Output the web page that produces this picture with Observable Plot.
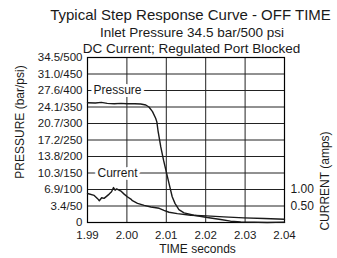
<!DOCTYPE html>
<html><head><meta charset="utf-8">
<script src="https://cdn.jsdelivr.net/npm/d3@7"></script>
<script src="https://cdn.jsdelivr.net/npm/@observablehq/plot@0.6"></script>
<style>body{margin:0;background:#fff}</style>
</head><body><div id="chart"></div>
<script>
const titleText = "Typical Step Response Curve - OFF TIME";
const subtitleLine1 = "Inlet Pressure 34.5 bar/500 psi";
const subtitleLine2 = "DC Current; Regulated Port Blocked";
const xLabel = "TIME seconds";
const yLabel = "PRESSURE (bar/psi)";
const y2Label = "CURRENT (amps)";
const timeTicks = [1.99, 2.00, 2.01, 2.02, 2.03, 2.04];
const psiTicks = [0, 50, 100, 150, 200, 250, 300, 350, 400, 450, 500];
const psiTickLabels = ["0", "3.4/50", "6.9/100", "10.3/150", "13.8/200", "17.2/250", "20.7/300", "24.1/350", "27.6/400", "31.0/450", "34.5/500"];
const currentTicks = [0.5, 1.0];
const currentTickLabels = ["0.50", "1.00"];
const PSI_PER_AMP = 100;

const pressureTime = [1.9900, 1.9920, 1.9935, 1.9950, 1.9968, 1.9985, 2.0000, 2.0020, 2.0035, 2.0048, 2.0056, 2.0065, 2.0073, 2.0076, 2.0079, 2.0086, 2.0093, 2.0101, 2.0107, 2.0115, 2.0122, 2.0132, 2.0145, 2.0170, 2.0204, 2.0238, 2.0263, 2.0289, 2.0356, 2.0400];
const pressurePsi  = [363, 362, 364, 361, 360, 361, 360, 360, 359, 356, 350, 336, 316, 305, 278, 229, 189, 148, 118, 78, 58, 39, 29, 22, 15, 9, 4, 2, 0, 1];

const currentTime = [1.9900, 1.9917, 1.9925, 1.9930, 1.9936, 1.9942, 1.9949, 1.9955, 1.9961, 1.9966, 1.9970, 1.9974, 1.9980, 1.9986, 1.9993, 2.0001, 2.0010, 2.0014, 2.0027, 2.0044, 2.0061, 2.0082, 2.0094, 2.0107, 2.0128, 2.0162, 2.0202, 2.0246, 2.0297, 2.0348, 2.0400];
const currentAmps = [0.88, 0.82, 0.73, 0.66, 0.75, 0.73, 0.80, 0.86, 0.93, 1.06, 0.98, 1.02, 0.98, 0.94, 0.86, 0.78, 0.71, 0.66, 0.58, 0.52, 0.47, 0.43, 0.37, 0.31, 0.27, 0.22, 0.20, 0.17, 0.14, 0.12, 0.10];

const seriesLabels = ["Pressure", "Current"];
const seriesLabelPsi = [400, 150];

const font = '"Liberation Sans", Arial, Helvetica, sans-serif';
const pressure = pressureTime.map((t, i) => ({t, v: pressurePsi[i]}));
const current = currentTime.map((t, i) => ({t, v: currentAmps[i] * PSI_PER_AMP}));
const ink = "#1a1a1a";

const chart = Plot.plot({
  width: 337, height: 258,
  marginTop: 57, marginBottom: 36, marginLeft: 87, marginRight: 53,
  style: {fontFamily: font, fontSize: "12px", color: ink, background: "white"},
  x: {domain: [1.99, 2.04]},
  y: {domain: [0, 500]},
  marks: [
    Plot.gridX(timeTicks, {stroke: "#222", strokeOpacity: 1, strokeWidth: 1}),
    Plot.gridY(psiTicks, {stroke: "#222", strokeOpacity: 1, strokeWidth: 1}),
    Plot.frame({stroke: "#000", strokeWidth: 1.2}),
    Plot.axisX(timeTicks, {tickSize: 0, tickPadding: 8, fontSize: 11.5, tickFormat: d3.format(".2f"), label: null}),
    Plot.axisY(psiTicks, {tickSize: 0, tickPadding: 5, fontSize: 11.5, tickFormat: d => psiTickLabels[psiTicks.indexOf(d)], label: null}),
    Plot.axisY(currentTicks.map(c => c * PSI_PER_AMP), {anchor: "right", tickSize: 0, tickPadding: 6,
      tickFormat: d => currentTickLabels[currentTicks.findIndex(c => Math.abs(c * PSI_PER_AMP - d) < 1e-6)], label: null}),
    Plot.line(current, {x: "t", y: "v", stroke: ink, strokeWidth: 1.4}),
    Plot.line(pressure, {x: "t", y: "v", stroke: ink, strokeWidth: 1.4}),
    Plot.text([seriesLabels[0]], {frameAnchor: "left", y: () => seriesLabelPsi[0], text: d => d, textAnchor: "start", lineAnchor: "middle", dx: 6, stroke: "white", strokeWidth: 6, fill: ink, fontSize: 12}),
    Plot.text([seriesLabels[1]], {frameAnchor: "left", y: () => seriesLabelPsi[1], text: d => d, textAnchor: "start", lineAnchor: "middle", dx: 10, stroke: "white", strokeWidth: 6, fill: ink, fontSize: 12}),
    Plot.text([titleText], {frameAnchor: "top", text: d => d, textAnchor: "middle", lineAnchor: "middle", dx: 4.5, dy: -42, fontSize: 15, fill: ink}),
    Plot.text([subtitleLine1], {frameAnchor: "top", text: d => d, textAnchor: "middle", lineAnchor: "middle", dx: 6, dy: -25, fontSize: 13.5, fill: ink}),
    Plot.text([subtitleLine2], {frameAnchor: "top", text: d => d, textAnchor: "middle", lineAnchor: "middle", dx: 5.5, dy: -9, fontSize: 13.5, fill: ink}),
    Plot.text([xLabel], {frameAnchor: "bottom", text: d => d, textAnchor: "middle", lineAnchor: "middle", dx: 11.5, dy: 27, fontSize: 12, fill: ink}),
    Plot.text([yLabel], {frameAnchor: "left", text: d => d, textAnchor: "middle", lineAnchor: "middle", rotate: -90, dx: -67, dy: -18, fontSize: 12, fill: ink}),
    Plot.text([y2Label], {frameAnchor: "right", text: d => d, textAnchor: "middle", lineAnchor: "middle", rotate: -90, dx: 41, dy: 41, fontSize: 12, fill: ink})
  ]
});
document.getElementById("chart").appendChild(chart);
</script>
</body></html>
